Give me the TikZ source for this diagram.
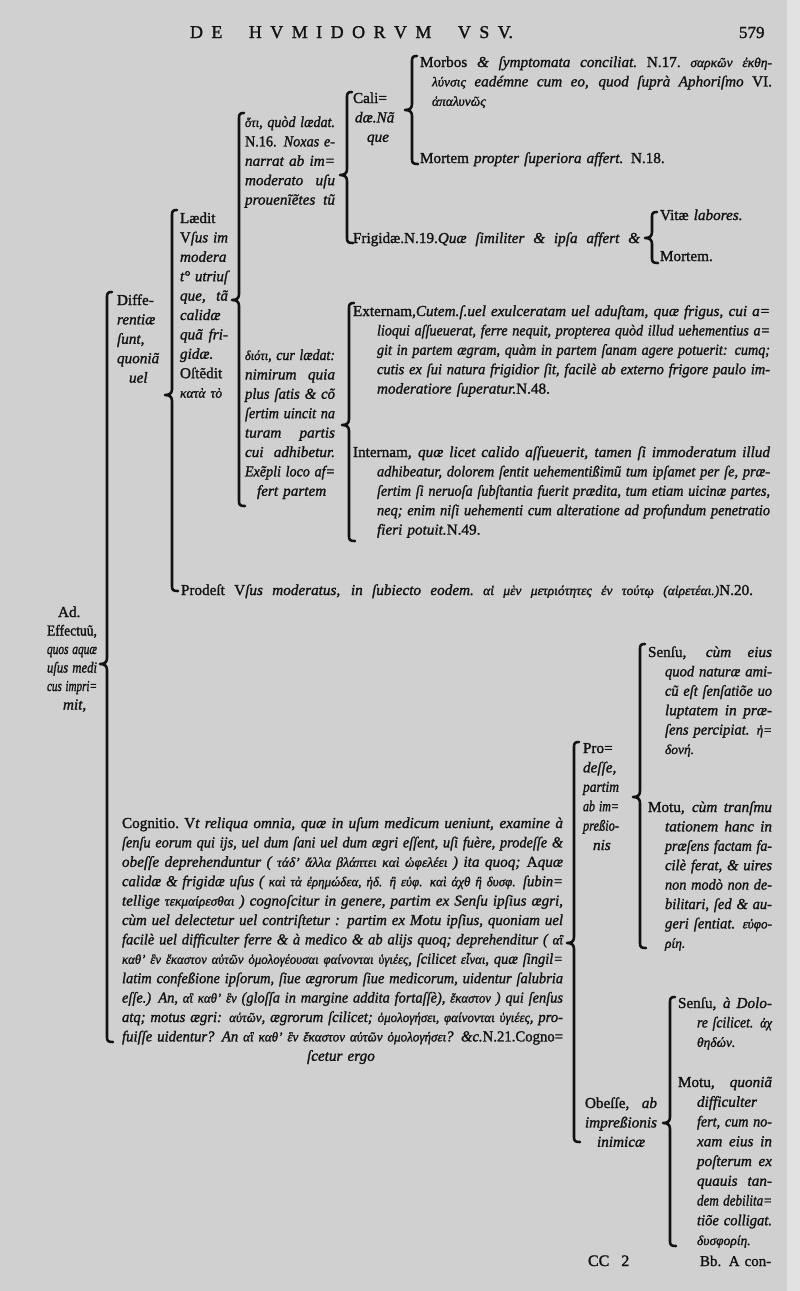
\documentclass[tikz,border=0pt]{standalone}
\usepackage{fontspec}
\usepackage{graphicx}
\setmainfont{Liberation Serif}[UprightFeatures={FakeBold=1.4},ItalicFeatures={FakeBold=1.4}]
\definecolor{paper}{RGB}{208,208,208}
\definecolor{paperedge}{RGB}{226,226,226}
\definecolor{ink}{RGB}{18,18,18}
\newsavebox\jlbox
\newcommand\JL[2]{\leavevmode\sbox\jlbox{#2}\ifdim\wd\jlbox>#1pt\relax\resizebox{#1pt}{\height}{\usebox\jlbox}\else\hbox to #1pt{\spaceskip=0.25em plus 1fill\relax\xspaceskip=\spaceskip #2}\fi}
\newcommand\gk[1]{{\fontsize{13.5}{19.4}\selectfont #1}}
\newcommand\bodyf{\fontsize{15.2}{19.4}\selectfont\itshape}
\newcommand\brk[4]{%
  \draw[brk] ({#1+5},#2) .. controls ({#1+1},#2) and (#1,{#2+1}) .. (#1,{#2+5})
    -- (#1,{#3-6}) .. controls (#1,{#3-2}) and ({#1-2},#3) .. ({#1-7},#3)
    .. controls ({#1-2},#3) and (#1,{#3+2}) .. (#1,{#3+6})
    -- (#1,{#4-5}) .. controls (#1,{#4-1}) and ({#1+1},#4) .. ({#1+6},#4);}
\begin{document}
\begin{tikzpicture}[x=1pt,y=-1pt,
  txt/.style={anchor=base west,inner sep=0pt,outer sep=0pt,align=left,font=\bodyf,text=ink},
  brk/.style={draw=ink,line width=2.6pt,line cap=round,line join=round}]
\useasboundingbox (0,0) rectangle (800,1291);
\fill[paper] (0,0) rectangle (800,1291);
\fill[paperedge] (787,0) rectangle (800,1291);

% header
\node[txt,text width=330pt,font=\fontsize{18}{20}\selectfont\upshape] (hdr) at (190,38) {\JL{323}{D E \quad H V M I D O R V M \quad V S V.}};
\node[txt,text width=40pt,font=\fontsize{17}{20}\selectfont\upshape] (pg) at (739,38) {579};

% top branch
\node[txt,text width=360pt] (morbos) at (420,67) {\JL{352}{{\upshape Morbos} \& ſymptomata conciliat. {\upshape N.17.} \gk{σαρκῶν ἐκθη-}}\\
\hspace*{12pt}\JL{340}{\gk{λύνσις} eadémne cum eo, quod ſuprà Aphoriſmo {\upshape VI.}}\\
\hspace*{12pt}\gk{ἁπαλυνῶς}};
\node[txt,text width=300pt] (mortemA) at (420,163) {{\upshape Mortem} propter ſuperiora affert. {\upshape N.18.}};
\node[txt,text width=60pt] (cali) at (353,103) {{\upshape Cali=}\\ \hspace*{2pt}dæ.Nã\\ \hspace*{14pt}que};
\node[txt,text width=292pt] (frig) at (353,243) {\JL{287}{{\upshape Frigidæ.N.19.}Quæ ſimiliter \& ipſa affert \&}};
\node[txt,text width=120pt] (vitae) at (660,220) {{\upshape Vitæ} labores.};
\node[txt,text width=100pt] (mortemB) at (660,261) {{\upshape Mortem.}};

\node[txt,text width=94pt] (hoti) at (245,127) {\JL{90}{\gk{ὅτι}, quòd lædat.}\\
\JL{90}{{\upshape N.16.} Noxas e-}\\ \JL{90}{narrat ab im=}\\ \JL{90}{moderato uſu}\\ \JL{90}{prouenĩẽtes tũ}};
\node[txt,text width=94pt] (dioti) at (245,360) {\JL{90}{\gk{διότι}, cur lædat:}\\
\JL{90}{nimirum quia}\\ \JL{90}{plus ſatis \& cõ}\\ \JL{90}{ſertim uincit na}\\ \JL{90}{turam partis}\\
\JL{90}{cui adhibetur.}\\ \JL{90}{Exẽpli loco af=}\\ \hspace*{12pt}fert partem};

\node[txt,text width=60pt] (laedit) at (180,223) {{\upshape Lædit}\\ \JL{48}{{\upshape V}ſus im}\\ modera\\ \JL{48}{t° utriuſ}\\
\JL{48}{que, tã}\\ calidæ\\ \JL{48}{quã fri-}\\ gidæ.\\ {\upshape Oſtẽdit}\\ \gk{κατὰ τὸ}};
\node[txt,text width=60pt] (diffe) at (117,305) {{\upshape Diffe-}\\ rentiæ\\ ſunt,\\ quoniã\\ \hspace*{12pt}uel};

\node[txt,text width=425pt] (extern) at (353,316) {\JL{417}{{\upshape Externam,}Cutem.ſ.uel exulceratam uel aduſtam, quæ frigus, cui a=}\\
\hspace*{24pt}\JL{393}{lioqui aſſueuerat, ferre nequit, propterea quòd illud uehementius a=}\\
\hspace*{24pt}\JL{393}{git in partem ægram, quàm in partem ſanam agere potuerit: cumq;}\\
\hspace*{24pt}\JL{393}{cutis ex ſui natura frigidior ſit, facilè ab externo frigore paulo im-}\\
\hspace*{24pt}moderatiore ſuperatur.{\upshape N.48.}};
\node[txt,text width=425pt] (intern) at (353,457) {\JL{417}{{\upshape Internam}, quæ licet calido aſſueuerit, tamen ſi immoderatum illud}\\
\hspace*{24pt}\JL{393}{adhibeatur, dolorem ſentit uehementißimũ tum ipſamet per ſe, præ-}\\
\hspace*{24pt}\JL{393}{ſertim ſi neruoſa ſubſtantia fuerit prædita, tum etiam uicinæ partes,}\\
\hspace*{24pt}\JL{393}{neq; enim niſi uehementi cum alteratione ad profundum penetratio}\\
\hspace*{24pt}fieri potuit.{\upshape N.49.}};

\node[txt,text width=580pt] (prodest) at (181,595) {\JL{572}{{\upshape Prodeſt V}ſus moderatus, in ſubiecto eodem. \gk{αἱ μὲν μετριότητες ἐν τούτῳ (αἱρετέαι.)}{\upshape N.20.}}};

\node[txt,text width=60pt,font=\fontsize{15.2}{18.5}\selectfont\itshape] (ad) at (47,617) {\hspace*{11pt}{\upshape Ad.}\\ \JL{50}{\upshape Effectuũ,}\\ \JL{50}{quos aquæ}\\ \JL{50}{uſus medi}\\ \JL{50}{cus impri=}\\ \hspace*{16pt}mit,};

% Cognitio
\node[txt,text width=450pt] (cogn) at (122,828) {\JL{441}{{\upshape Cognitio.} {\upshape V}t reliqua omnia, quæ in uſum medicum ueniunt, examine à}\\
\JL{441}{ſenſu eorum qui ijs, uel dum ſani uel dum ægri eſſent, uſi fuère, prodeſſe \&}\\
\JL{441}{obeſſe deprehenduntur ( \gk{τάδ' ἄλλα βλάπτει καὶ ὠφελέει} ) ita quoq; {\upshape A}quæ}\\
\JL{441}{calidæ \& frigidæ uſus ( \gk{καὶ τὰ ἐρημώδεα, ἡδ. ἢ εὐφ. καὶ ἀχθ ἢ δυσφ.} ſubin=}\\
\JL{441}{tellige \gk{τεκμαίρεσθαι} ) cognoſcitur in genere, partim ex Senſu ipſius ægri,}\\
\JL{441}{cùm uel delectetur uel contriſtetur : partim ex Motu ipſius, quoniam uel}\\
\JL{441}{facilè uel difficulter ferre \& à medico \& ab alijs quoq; deprehenditur ( \gk{αἳ}}\\
\JL{441}{\gk{καθ' ἓν ἕκαστον αὐτῶν ὁμολογέουσαι φαίνονται ὑγιέες}, ſcilicet \gk{εἶναι}, quæ ſingil=}\\
\JL{441}{latim confeßione ipſorum, ſiue ægrorum ſiue medicorum, uidentur ſalubria}\\
\JL{441}{eſſe.) An, \gk{αἳ καθ' ἓν} (gloſſa in margine addita fortaſſè), \gk{ἕκαστον} ) qui ſenſus}\\
\JL{441}{atq; motus ægri: \gk{αὐτῶν}, ægrorum ſcilicet; \gk{ὁμολογήσει, φαίνονται ὑγιέες}, pro-}\\
\JL{441}{fuiſſe uidentur? An \gk{αἳ καθ' ἓν ἕκαστον αὐτῶν ὁμολογήσει}? \&c.{\upshape N.21.Cogno=}}\\
\hspace*{185pt}ſcetur ergo};

% Prodesse / Obesse
\node[txt,text width=70pt] (prodesse) at (583,753) {{\upshape Pro=}\\ deſſe,\\ \JL{36}{partim}\\ \JL{36}{ab im=}\\ \JL{36}{preßio-}\\ \hspace*{10pt}nis};
\node[txt,text width=130pt] (sensuA) at (648,657) {\JL{124}{{\upshape Senſu}, cùm eius}\\
\hspace*{17pt}\JL{107}{quod naturæ ami-}\\ \hspace*{17pt}\JL{107}{cũ eſt ſenſatiõe uo}\\
\hspace*{17pt}\JL{107}{luptatem in præ-}\\ \hspace*{17pt}\JL{107}{ſens percipiat. \gk{ἡ=}}\\ \hspace*{17pt}\gk{δονή.}};
\node[txt,text width=130pt] (motuA) at (648,812) {\JL{124}{{\upshape Motu}, cùm tranſmu}\\
\hspace*{17pt}\JL{107}{tationem hanc in}\\ \hspace*{17pt}\JL{107}{præſens factam fa-}\\
\hspace*{17pt}\JL{107}{cilè ferat, \& uires}\\ \hspace*{17pt}\JL{107}{non modò non de-}\\
\hspace*{17pt}\JL{107}{bilitari, ſed \& au-}\\ \hspace*{17pt}\JL{107}{geri ſentiat. \gk{εὐφο-}}\\ \hspace*{17pt}\gk{ρίη.}};
\node[txt,text width=90pt] (obesse) at (585,1108) {\JL{72}{{\upshape Obeſſe,} ab}\\ \JL{72}{impreßionis}\\ \hspace*{12pt}inimicæ};
\node[txt,text width=110pt] (sensuB) at (678,1008) {\JL{94}{{\upshape Senſu}, à Dolo-}\\
\hspace*{19pt}\JL{75}{re ſcilicet. \gk{ἀχ}}\\ \hspace*{19pt}\gk{θηδών.}};
\node[txt,text width=110pt,font=\fontsize{15.2}{19.75}\selectfont\itshape] (motuB) at (678,1087) {\JL{94}{{\upshape Motu}, quoniã}\\
\hspace*{19pt}difficulter\\ \hspace*{19pt}\JL{75}{fert, cum no-}\\ \hspace*{19pt}\JL{75}{xam eius in}\\
\hspace*{19pt}\JL{75}{poſterum ex}\\ \hspace*{19pt}\JL{75}{quauis tan-}\\ \hspace*{19pt}\JL{75}{dem debilita=}\\
\hspace*{19pt}\JL{75}{tiõe colligat.}\\ \hspace*{19pt}\gk{δυσφορίη.}};

% footer
\node[txt,text width=60pt,font=\fontsize{16}{18}\selectfont\upshape] (sig) at (588,1266) {CC\hspace{12pt}2};
\node[txt,text width=90pt,font=\fontsize{15}{18}\selectfont\upshape] (catch) at (700,1266) {Bb. A con-};

% braces
\brk{412}{56}{110}{164}
\brk{347}{92}{175}{243}
\brk{239}{113}{300}{506}
\brk{349}{303}{425}{541}
\brk{172}{210}{395}{591}
\brk{107}{292}{664}{1042}
\brk{652}{212}{238}{263}
\brk{574}{742}{943}{1142}
\brk{640}{644}{797}{948}
\brk{670}{997}{1123}{1246}
\end{tikzpicture}
\end{document}
